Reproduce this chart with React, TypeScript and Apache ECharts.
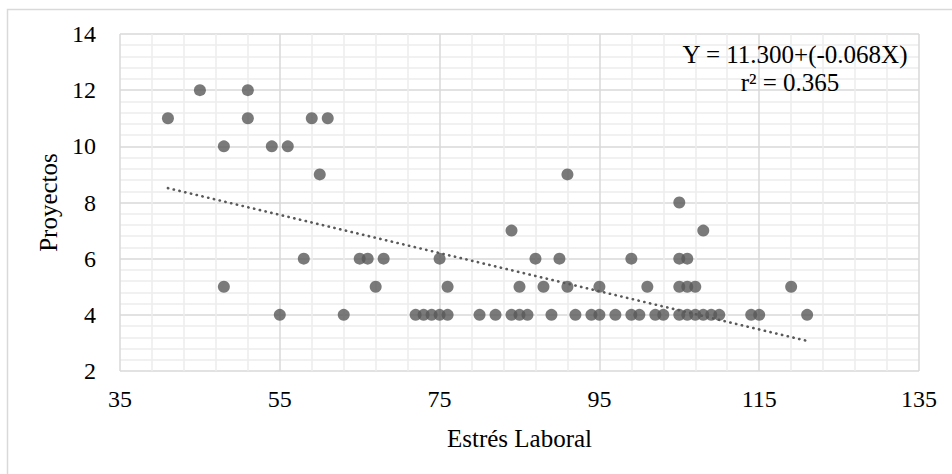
import React, { useEffect, useRef } from "react";
import * as echarts from "echarts";

// Estrés Laboral (x) and Proyectos (y) for each respondent
const stressValues = [
  41, 45, 51, 51, 48, 48, 54, 56, 59, 61, 60, 58, 55, 63,
  65, 66, 68, 67, 75, 76, 72, 73, 74, 75, 76, 80, 82, 84,
  85, 86, 84, 87, 85, 88, 89, 90, 91, 91, 92, 94, 95, 95,
  97, 99, 99, 100, 101, 102, 103, 105, 108, 105, 106, 105, 106, 107,
  105, 106, 107, 108, 109, 110, 114, 115, 121, 119,
];
const projectValues = [
  11, 12, 12, 11, 10, 5, 10, 10, 11, 11, 9, 6, 4, 4,
  6, 6, 6, 5, 6, 5, 4, 4, 4, 4, 4, 4, 4, 4,
  4, 4, 7, 6, 5, 5, 4, 6, 9, 5, 4, 4, 4, 5,
  4, 6, 4, 4, 5, 4, 4, 8, 7, 6, 6, 5, 5, 5,
  4, 4, 4, 4, 4, 4, 4, 4, 4, 5,
];

// Trendline reported on the chart
const INTERCEPT = 11.3;
const SLOPE = -0.068;
const R_SQUARED = 0.365;

const xAxisName = "Estrés Laboral";
const yAxisName = "Proyectos";

const FONT = '"Liberation Serif", "Times New Roman", serif';

export default function App() {
  const ref = useRef<HTMLDivElement>(null);

  useEffect(() => {
    if (!ref.current) return;
    const chart = echarts.init(ref.current, undefined, { renderer: "svg" });

    const points = stressValues.map((x, i) => [x, projectValues[i]]);
    const xMin = Math.min(...stressValues);
    const xMax = Math.max(...stressValues);
    const trend = [
      [xMin, INTERCEPT + SLOPE * xMin],
      [xMax, INTERCEPT + SLOPE * xMax],
    ];

    const eqText = `Y = ${INTERCEPT.toFixed(3)}+(${SLOPE.toFixed(3)}X)`;
    const r2Text = `r² = ${R_SQUARED.toFixed(3)}`;

    chart.setOption({
      animation: false,
      backgroundColor: "#ffffff",
      grid: { left: 120, top: 34, width: 799, height: 337, containLabel: false },
      xAxis: {
        type: "value",
        min: 35,
        max: 135,
        interval: 20,
        name: xAxisName,
        nameLocation: "middle",
        nameGap: 55,
        nameTextStyle: { fontFamily: FONT, fontSize: 25, color: "#000" },
        axisLine: { show: false },
        axisTick: { show: false },
        axisLabel: { fontFamily: FONT, fontSize: 24, color: "#000", margin: 16 },
        splitLine: { show: true, lineStyle: { color: "#d9d9d9", width: 1.5 } },
        minorTick: { show: false, splitNumber: 5 },
        minorSplitLine: { show: true, lineStyle: { color: "#ededed", width: 1.5 } },
      },
      yAxis: {
        type: "value",
        min: 2,
        max: 14,
        interval: 2,
        name: yAxisName,
        nameLocation: "middle",
        nameGap: 58,
        nameTextStyle: { fontFamily: FONT, fontSize: 25, color: "#000" },
        axisLine: { show: false },
        axisTick: { show: false },
        axisLabel: { fontFamily: FONT, fontSize: 24, color: "#000", margin: 24 },
        splitLine: { show: true, lineStyle: { color: "#d9d9d9", width: 1.5 } },
        minorTick: { show: false, splitNumber: 5 },
        minorSplitLine: { show: true, lineStyle: { color: "#ededed", width: 1.5 } },
      },
      series: [
        {
          type: "scatter",
          data: points,
          symbol: "circle",
          symbolSize: 12,
          itemStyle: { color: "#595959" },
          z: 3,
        },
        {
          type: "line",
          data: trend,
          symbol: "none",
          lineStyle: { color: "#595959", width: 2.6, type: [0.3, 5.6], cap: "round" },
          z: 4,
        },
      ],
      graphic: [
        {
          type: "rect",
          shape: { x: 7.5, y: 9.5, width: 1000, height: 600 },
          style: { fill: "none", stroke: "#d9d9d9", lineWidth: 1.5 },
          silent: true,
          z: -10,
        },
        {
          type: "text",
          x: 795,
          y: 54,
          style: {
            text: eqText,
            fontFamily: FONT,
            fontSize: 25,
            fill: "#000",
            align: "center",
            verticalAlign: "middle",
          },
          z: 10,
        },
        {
          type: "text",
          x: 790,
          y: 82,
          style: {
            text: r2Text,
            fontFamily: FONT,
            fontSize: 25,
            fill: "#000",
            align: "center",
            verticalAlign: "middle",
          },
          z: 10,
        },
      ],
    });

    return () => chart.dispose();
  }, []);

  return (
    <div
      ref={ref}
      style={{ position: "fixed", left: 0, top: 0, width: 952, height: 474, background: "#fff" }}
    />
  );
}
